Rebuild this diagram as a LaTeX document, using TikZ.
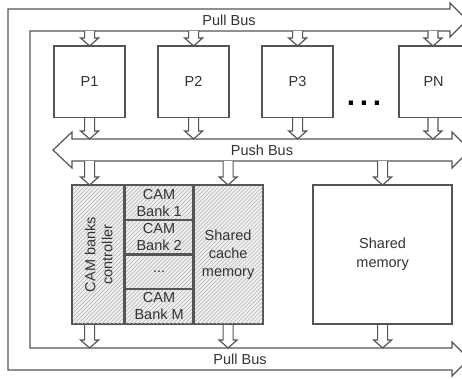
\documentclass[tikz,border=0pt]{standalone}
\usepackage{fontspec}
\setmainfont{Liberation Sans}
\usetikzlibrary{calc,patterns.meta}

\definecolor{linegray}{HTML}{555555}
\definecolor{textgray}{HTML}{333333}

% hollow block arrow pointing down, from #1 (top) to #2 (tip)
\newcommand\blockarrow[2]{%
  \path let \p1=#1, \p2=#2 in
    [fill=white] (\x1-5pt,\y1) -- (\x1-5pt,\y2+8pt) -- (\x1-9pt,\y2+8pt) -- (\x1,\y2)
      -- (\x1+9pt,\y2+8pt) -- (\x1+5pt,\y2+8pt) -- (\x1+5pt,\y1) -- cycle;
  \draw[wire] let \p1=#1, \p2=#2 in
    (\x1-5pt,\y1) -- (\x1-5pt,\y2+8pt) -- (\x1-9pt,\y2+8pt) -- (\x1,\y2)
      -- (\x1+9pt,\y2+8pt) -- (\x1+5pt,\y2+8pt) -- (\x1+5pt,\y1);
}

\begin{document}
\begin{tikzpicture}[x=1pt,y=-1pt,line join=miter,
  every node/.style={text=textgray,font=\fontsize{14.5}{17}\selectfont,inner sep=0pt,align=center},
  wire/.style={draw=linegray,line width=1.2pt},
  box/.style={wire,fill=white,minimum width=70pt,minimum height=70.5pt,anchor=north west},
  cell/.style={wire,minimum width=69pt,minimum height=34.5pt,anchor=north west},
  hatched/.style={fill=gray!10,postaction={pattern={Lines[angle=45,distance=2.8pt,line width=0.7pt]},pattern color=gray!55}},
  bus/.style={wire,fill=white},
]
\useasboundingbox (0,0) rectangle (462,378);
\clip (0,0) rectangle (462,378);

% reference lines of the buses
\coordinate (pulltop) at (0,31);
\coordinate (pushtop) at (0,139);
\coordinate (pushbot) at (0,161);
\coordinate (pullbot) at (0,348);

% Pull Bus: U-shaped bus with two arrow heads on the right
\draw[bus] (450,9) -- (8,9) -- (8,370) -- (452,370) -- (452,376) -- (469,359)
  -- (452,342) -- (452,348) -- (30,348) -- (30,31) -- (450,31) -- (450,37)
  -- (467,20) -- (450,3) -- cycle;
\node (pulllabel) at (229,20) {Pull Bus};
\node (pulllabel2) at (240,359) {Pull Bus};

% Push Bus: double-headed bus
\draw[bus] (72,139) -- (452,139) -- (452,132) -- (470,150) -- (452,168) -- (452,161)
  -- (72,161) -- (72,168) -- (53,150) -- (72,132) -- cycle;
\node (pushlabel) at (262,150) {Push Bus};

% processors
\path (54,46) node[box] (p1) {}
      (158,46) node[box] (p2) {}
      (262,46) node[box] (p3) {}
      (399,46) node[box,minimum width=68pt] (pn) {};

% lower blocks
\node[cell,hatched,minimum width=52pt,minimum height=138pt] (ctrl) at (72,185) {};
\node[cell,hatched] (bank1) at (124,185) {};
\node[cell,hatched] (bank2) at (124,219.5) {};
\node[cell,hatched] (bankdots) at (124,254) {};
\node[cell,hatched] (bankm) at (124,288.5) {};
\node[cell,hatched,minimum height=138pt] (cache) at (193,185) {};
\node[cell,fill=white,minimum width=138pt,minimum height=138pt] (mem) at (313,185) {};

% arrows between buses and blocks
\foreach \q in {p1,p2,p3} {
  \blockarrow{(\q.north |- pulltop)}{(\q.north)}
  \blockarrow{(\q.south)}{(\q.south |- pushtop)}
}
\coordinate (pnx) at (433,0);
\blockarrow{(pnx |- pulltop)}{(pnx |- pn.north)}
\blockarrow{(pnx |- pn.south)}{(pnx |- pushtop)}
\blockarrow{(p1.south |- pushbot)}{(p1.south |- ctrl.north)}
\blockarrow{(cache.north |- pushbot)}{(cache.north)}
\blockarrow{(mem.north |- pushbot)}{(mem.north)}
\blockarrow{(p1.south |- ctrl.south)}{(p1.south |- pullbot)}
\blockarrow{(cache.south)}{(cache.south |- pullbot)}
\blockarrow{(mem.south)}{(mem.south |- pullbot)}

% redraw outlines over the arrow ends
\foreach \n in {p1,p2,p3,pn,ctrl,bank1,bank2,bankdots,bankm,cache,mem}
  \draw[wire] (\n.north west) rectangle (\n.south east);

% labels
\node (t1) at (p1.center) {P1};
\node (t2) at (p2.center) {P2};
\node (t3) at (p3.center) {P3};
\node (tn) at (pn.center) {PN};
\node[text=black,font=\fontsize{30}{30}\selectfont\bfseries] (dots) at (364,103) {.\kern4.7pt.\kern4.7pt.};
\node[rotate=90] (ctrltext) at (ctrl.center) {CAM banks\\controller};
\node (b1) at (bank1.center) {CAM\\Bank 1};
\node (b2) at (bank2.center) {CAM\\Bank 2};
\node (bd) at (bankdots.center) {...};
\node (bm) at (bankm.center) {CAM\\Bank M};
\node[font=\fontsize{14.5}{18}\selectfont] (cachetext) at (cache.center) {Shared\\cache\\memory};
\node[font=\fontsize{14.5}{19}\selectfont] (memtext) at (mem.center) {Shared\\memory};
\end{tikzpicture}
\end{document}
